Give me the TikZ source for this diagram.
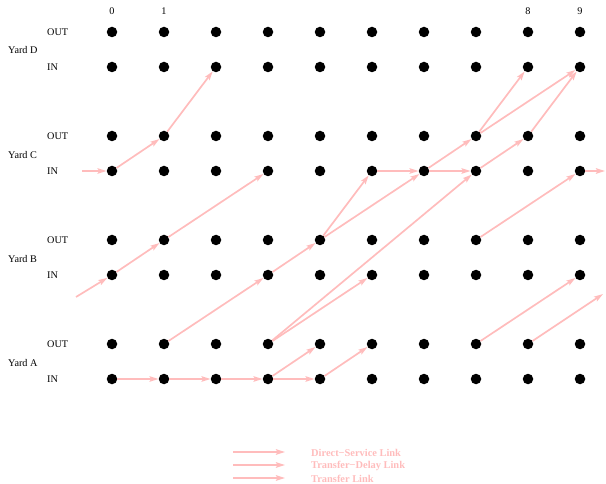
\documentclass[tikz,border=0pt]{standalone}
\usepackage{fontspec}
\setmainfont{Liberation Serif}
\usetikzlibrary{arrows.meta}
\definecolor{linkpink}{RGB}{255,188,188}
\begin{document}
\begin{tikzpicture}[x=1pt,y=-1pt,
  dot/.style={circle,fill=black,inner sep=0pt,minimum size=10.5pt},
  link/.style={draw=linkpink,line width=1.7pt,-{Stealth[length=9pt,width=5.5pt,inset=1.5pt]}},
  lbl/.style={font=\fontsize{10.2}{12}\selectfont,inner sep=0pt},
  legtext/.style={inner sep=0pt,text=linkpink,font=\fontsize{10.4}{12}\selectfont\bfseries,anchor=west}]
\useasboundingbox (0,0) rectangle (606,484);
% grid of dots
\foreach \r/\y in {Do/32,Di/67,Co/136,Ci/171,Bo/240,Bi/275,Ao/344,Ai/379}{
  \foreach \c in {0,...,9}{
    \node[dot] (\r\c) at ({112+52*\c},\y) {};
  }
}
% column labels
\node[lbl] (k0) at (112,11) {0};
\node[lbl] (k1) at (164,11) {1};
\node[lbl] (k8) at (528,11) {8};
\node[lbl] (k9) at (580,11) {9};
% yard labels
\node[lbl,anchor=west] (yD) at (8,50) {Yard D};
\node[lbl,anchor=west] (yC) at (8,155) {Yard C};
\node[lbl,anchor=west] (yB) at (8,259) {Yard B};
\node[lbl,anchor=west] (yA) at (8,363) {Yard A};
\foreach \r/\y/\t in {Do/32/OUT,Di/67/IN,Co/136/OUT,Ci/171/IN,Bo/240/OUT,Bi/275/IN,Ao/344/OUT,Ai/379/IN}{
  \node[lbl,anchor=west] (t\r) at (47,\y) {\t};
}
% free ends
\coordinate (sC) at (82,171);
\coordinate (sB) at (76,297);
\coordinate (eC) at (605,171);
\coordinate (eA) at (603,294);
% links
\draw[link] (sC) -- (Ci0);
\draw[link] (Ci0) -- (Co1);
\draw[link] (Co1) -- (Di2);
\draw[link] (sB) -- (Bi0);
\draw[link] (Bi0) -- (Bo1);
\draw[link] (Bo1) -- (Ci3);
\draw[link] (Ao1) -- (Bi3);
\draw[link] (Ai0) -- (Ai1);
\draw[link] (Ai1) -- (Ai2);
\draw[link] (Ai2) -- (Ai3);
\draw[link] (Ai3) -- (Ai4);
\draw[link] (Ai3) -- (Ao4);
\draw[link] (Ai4) -- (Ao5);
\draw[link] (Ao3) -- (Bi5);
\draw[link] (Ao3) -- (Ci7);
\draw[link] (Bi3) -- (Bo4);
\draw[link] (Bo4) -- (Ci5);
\draw[link] (Bo4) -- (Ci6);
\draw[link] (Ci5) -- (Ci6);
\draw[link] (Ci6) -- (Co7);
\draw[link] (Ci6) -- (Ci7);
\draw[link] (Ci7) -- (Co8);
\draw[link] (Co7) -- (Di8);
\draw[link] (Co7) -- (Di9);
\draw[link] (Co8) -- (Di9);
\draw[link] (Bo7) -- (Ci9);
\draw[link] (Ci9) -- (eC);
\draw[link] (Ao7) -- (Bi9);
\draw[link] (Ao8) -- (eA);
% legend
\coordinate (ls1) at (233,452); \coordinate (le1) at (285,452);
\coordinate (ls2) at (233,465); \coordinate (le2) at (285,465);
\coordinate (ls3) at (233,478); \coordinate (le3) at (285,478);
\draw[link] (ls1) -- (le1);
\draw[link] (ls2) -- (le2);
\draw[link] (ls3) -- (le3);
\node[legtext] (lt1) at (311,453) {Direct−Service Link};
\node[legtext] (lt2) at (311,466) {Transfer−Delay Link};
\node[legtext] (lt3) at (311,479) {Transfer Link};
\end{tikzpicture}
\end{document}
